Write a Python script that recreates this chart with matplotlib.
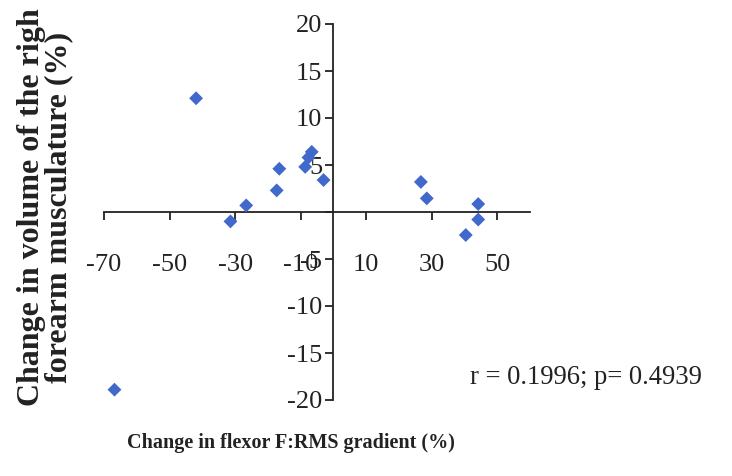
import matplotlib
matplotlib.use("Agg")
import matplotlib.pyplot as plt

# 数据
flexor_change = [-66.8, -41.9, -31.4, -26.6, -17.3, -16.5, -8.6, -7.6, -6.6, -3.0,
                 26.7, 28.5, 40.4, 44.2, 44.2]
volume_change = [-18.9, 12.1, -1.0, 0.7, 2.3, 4.6, 4.8, 5.8, 6.4, 3.4,
                 3.2, 1.45, -2.45, 0.85, -0.8]
x_ticks = [-70, -50, -30, -10, 10, 30, 50]
y_ticks = [-20, -15, -10, -5, 0, 5, 10, 15, 20]
y_tick_labels = ["-20", "-15", "-10", "-5", "", "5", "10", "15", "20"]
stats_text = "r = 0.1996; p= 0.4939"

plt.rcParams['font.family'] = ['Liberation Serif', 'DejaVu Serif']

fig = plt.figure(figsize=(7.32, 4.76), dpi=100)
ax = fig.add_axes([104 / 732, 1 - 400 / 476, (530 - 104) / 732, (400 - 24) / 476])

ax.scatter(flexor_change, volume_change, marker='D', s=50, color='#4169cc',
           edgecolors='none', zorder=3)

ax.set_xlim(-70, 60)
ax.set_ylim(-20, 20)
ax.spines['left'].set_position(('data', 0))
ax.spines['bottom'].set_position(('data', 0))
ax.spines['top'].set_visible(False)
ax.spines['right'].set_visible(False)
for s in ('left', 'bottom'):
    ax.spines[s].set_linewidth(1.3)
    ax.spines[s].set_color('#222222')

ax.set_xticks(x_ticks)
ax.set_xticklabels([str(v) for v in x_ticks])
ax.set_yticks(y_ticks)
ax.set_yticklabels(y_tick_labels)
ax.tick_params(axis='x', direction='out', length=6, width=1.3, pad=24,
               labelsize=19, colors='#222222')
ax.tick_params(axis='y', direction='out', length=6, width=1.3, pad=2,
               labelsize=19, colors='#222222')

fig.text(470 / 732, 1 - 378 / 476, stats_text, fontsize=19.2, ha='left',
         va='center', color='#222222')

fig.text(127 / 732, 1 - 443 / 476, "Change in flexor F:RMS gradient (%)",
         fontsize=14.5, fontweight='bold', ha='left', va='center', color='#222222')

fig.text(45 / 732, 1 - 207 / 476,
         "Change in volume of the righ\nforearm musculature (%)",
         fontsize=23, fontweight='bold', rotation=90, ha='center', va='center',
         multialignment='center', linespacing=0.95, color='#222222')

fig.savefig("out.png", dpi=100)
